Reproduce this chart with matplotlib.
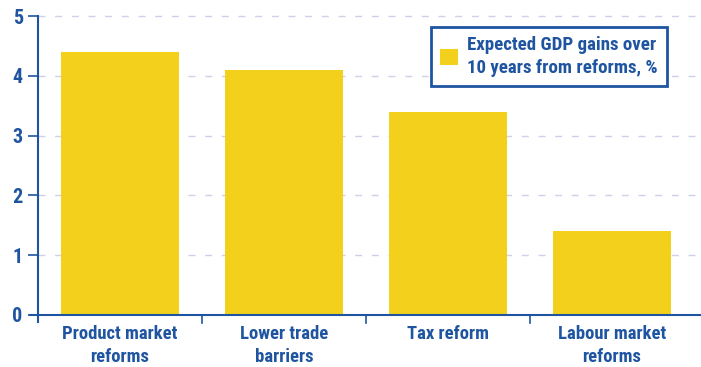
import matplotlib
matplotlib.use("Agg")
import matplotlib.pyplot as plt
from matplotlib.patches import Patch

categories = ["Product market\nreforms", "Lower trade\nbarriers", "Tax reform", "Labour market\nreforms"]
values = [4.4, 4.1, 3.4, 1.4]
yticks = [0, 1, 2, 3, 4, 5]
series_label = "Expected GDP gains over\n10 years from reforms, %"

plt.rcParams['font.family'] = ['Roboto Condensed', 'DejaVu Sans']

BLUE = "#1f55a0"
YELLOW = "#f2d01c"
GRID = "#cdd0e6"

fig = plt.figure(figsize=(7.01, 3.67), dpi=100)
ax = fig.add_axes([38/701, 1-315/367, (694-38)/701, (315-16)/367])

x = list(range(len(categories)))
ax.bar(x, values, width=0.72, color=YELLOW, zorder=3)
ax.set_xlim(-0.5, 3.5)
ax.set_ylim(0, 5)

for s in ax.spines.values():
    s.set_visible(False)

for v in yticks[1:]:
    ax.plot([-0.5, 3.55], [v, v], color=GRID, lw=1, ls=(0, (5, 7)), clip_on=False, zorder=1)

ax.plot([-0.5, -0.5], [-0.12, 5], color=BLUE, lw=1.5, clip_on=False, zorder=4)
ax.plot([-0.55, 3.55], [0, 0], color=BLUE, lw=1.5, clip_on=False, zorder=4)
for b in [0.5, 1.5, 2.5]:
    ax.plot([b, b], [0, -0.14], color=BLUE, lw=1.2, clip_on=False, zorder=4)

ax.set_yticks(yticks)
ax.set_yticklabels([str(t) for t in yticks], fontsize=14.5, fontweight='bold', color=BLUE)
ax.tick_params(axis='y', direction='out', length=7, width=1.2, color=BLUE, pad=4)
ax.set_xticks(x)
ax.set_xticklabels(categories, fontsize=13.4, fontweight='bold', color=BLUE, linespacing=1.4)
ax.tick_params(axis='x', length=0, pad=7)

leg = ax.legend([Patch(facecolor=YELLOW, edgecolor='none')], [series_label],
                loc='upper right', bbox_to_anchor=(667/701, 1-27/367), bbox_transform=fig.transFigure,
                borderaxespad=0, frameon=True, fancybox=False, handlelength=0.95, handleheight=0.95,
                handletextpad=0.45, borderpad=0.5, fontsize=13.6, framealpha=1)
leg.get_frame().set_edgecolor(BLUE)
leg.get_frame().set_linewidth(2)
for t in leg.get_texts():
    t.set_color(BLUE)
    t.set_fontweight('bold')
    t.set_linespacing(1.3)
leg.set_zorder(5)

fig.savefig("out.png", dpi=100)
